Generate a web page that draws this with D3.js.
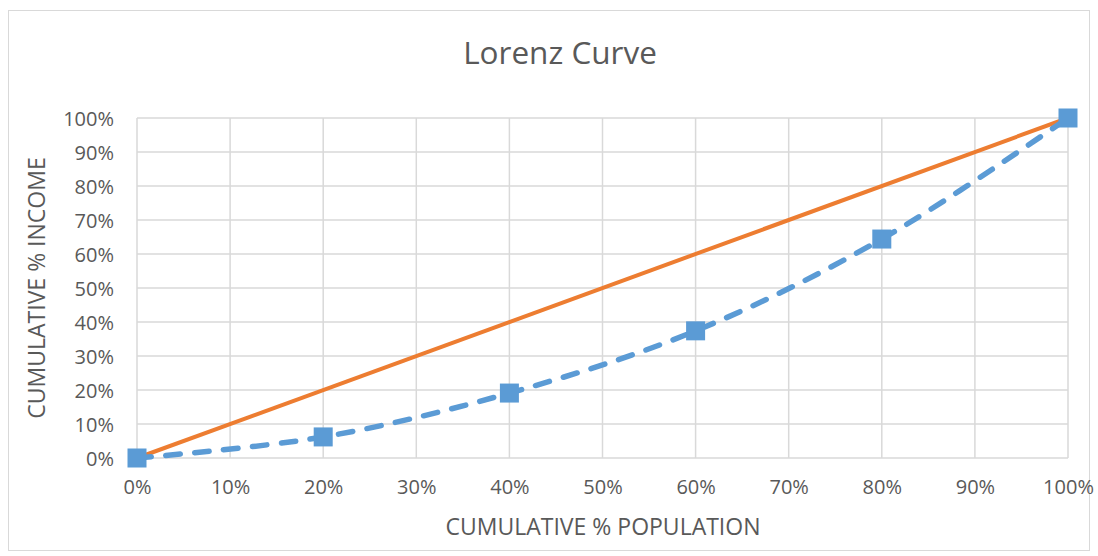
<!DOCTYPE html>
<html><head><meta charset="utf-8">
<script src="https://cdn.jsdelivr.net/npm/d3@7"></script>
<style>body{margin:0;background:#fff}svg{display:block}text{font-family:"Open Sans",Lato,sans-serif;fill:#595959}</style>
</head><body>
<script>
const population = [0, 0.2, 0.4, 0.6, 0.8, 1.0];
const incomeLorenz = [0, 0.062, 0.191, 0.374, 0.644, 1.0];
const equalityX = [0, 1];
const equalityY = [0, 1];
const xTicks = [0,0.1,0.2,0.3,0.4,0.5,0.6,0.7,0.8,0.9,1.0];
const yTicks = [0,0.1,0.2,0.3,0.4,0.5,0.6,0.7,0.8,0.9,1.0];
const title = "Lorenz Curve";
const xTitle = "CUMULATIVE % POPULATION";
const yTitle = "CUMULATIVE % INCOME";

const W = 1098, H = 556;
const svg = d3.select("body").append("svg").attr("width", W).attr("height", H);
svg.append("rect").attr("x", 8.5).attr("y", 10.5).attr("width", 1081).attr("height", 540)
  .attr("fill", "#fff").attr("stroke", "#D9D9D9").attr("stroke-width", 1);

const x = d3.scaleLinear().domain([0, 1]).range([137, 1068]);
const y = d3.scaleLinear().domain([0, 1]).range([458, 118]);
const fmt = d3.format(".0%");

// gridlines
svg.append("g").selectAll("line").data(yTicks).join("line")
  .attr("x1", x(0)).attr("x2", x(1)).attr("y1", d => y(d)).attr("y2", d => y(d))
  .attr("stroke", "#D9D9D9").attr("stroke-width", 1.5);
svg.append("g").selectAll("line").data(xTicks).join("line")
  .attr("y1", y(0)).attr("y2", y(1)).attr("x1", d => x(d)).attr("x2", d => x(d))
  .attr("stroke", "#D9D9D9").attr("stroke-width", 1.5);

// axes labels via d3 axes
const ax = svg.append("g").attr("transform", `translate(0,${y(0)})`)
  .call(d3.axisBottom(x).tickValues(xTicks).tickFormat(fmt).tickSize(0).tickPadding(22));
const ay = svg.append("g").attr("transform", `translate(${x(0)},0)`)
  .call(d3.axisLeft(y).tickValues(yTicks).tickFormat(fmt).tickSize(0).tickPadding(23));
[ax, ay].forEach(g => {
  g.select(".domain").remove();
  g.selectAll("text").style("font-size", "20px").style("font-family", "'Open Sans'").attr("fill", "#595959");
});
ay.selectAll("text").attr("dy", "0.36em");

// equality line
svg.append("path")
  .datum(equalityX.map((d, i) => [d, equalityY[i]]))
  .attr("d", d3.line().x(d => x(d[0])).y(d => y(d[1])))
  .attr("fill", "none").attr("stroke", "#ED7D31").attr("stroke-width", 4);

// lorenz curve
const pts = population.map((d, i) => [d, incomeLorenz[i]]);
svg.append("path").datum(pts)
  .attr("d", d3.line().x(d => x(d[0])).y(d => y(d[1])).curve(d3.curveCatmullRom.alpha(0.5)))
  .attr("fill", "none").attr("stroke", "#5B9BD5").attr("stroke-width", 5.5)
  .attr("stroke-dasharray", "14.5,14.5").attr("stroke-linecap", "round");

const ms = 19;
svg.append("g").selectAll("rect").data(pts).join("rect")
  .attr("x", d => x(d[0]) - ms / 2).attr("y", d => y(d[1]) - ms / 2)
  .attr("width", ms).attr("height", ms).attr("fill", "#5B9BD5");

svg.append("text").attr("x", 560).attr("y", 64).attr("text-anchor", "middle")
  .style("font-size", "31.5px").text(title);
svg.append("text").attr("x", 603).attr("y", 535).attr("text-anchor", "middle")
  .style("font-size", "23px").text(xTitle);
svg.append("text").attr("transform", "translate(45,288) rotate(-90)").attr("text-anchor", "middle")
  .style("font-size", "23px").text(yTitle);
</script>
</body></html>
